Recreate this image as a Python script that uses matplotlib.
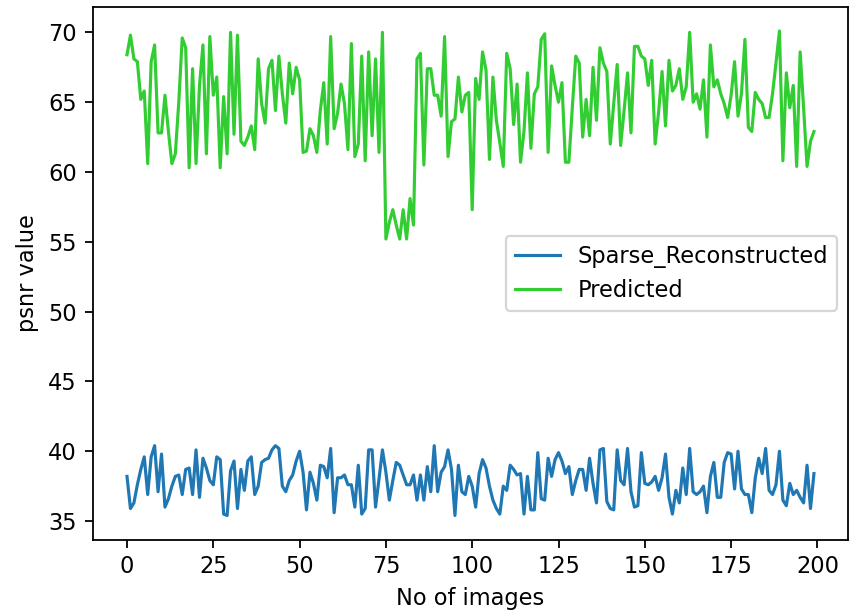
import numpy as np
import matplotlib
matplotlib.use("Agg")
import matplotlib.pyplot as plt

# psnr per image
sparse_reconstructed = [
    38.2, 35.9, 36.3, 37.6, 38.7, 39.6, 36.9, 39.6, 40.4, 37.1,
    39.8, 36.0, 36.6, 37.5, 38.2, 38.3, 36.9, 38.7, 38.8, 36.9,
    40.1, 36.7, 39.5, 38.8, 37.9, 37.6, 39.6, 39.4, 35.5, 35.4,
    38.6, 39.3, 35.9, 38.7, 37.2, 39.3, 39.6, 36.9, 37.5, 39.2,
    39.4, 39.5, 40.1, 40.4, 40.2, 37.5, 37.1, 37.9, 38.3, 39.3,
    40.0, 38.5, 35.8, 38.5, 37.7, 36.5, 39.0, 38.9, 38.1, 40.2,
    35.6, 38.1, 38.1, 38.3, 37.6, 37.6, 36.0, 39.0, 35.5, 35.9,
    40.1, 40.1, 36.0, 38.0, 40.1, 38.5, 36.5, 37.9, 39.2, 39.0,
    38.3, 37.6, 37.6, 38.3, 36.5, 38.3, 36.5, 38.9, 37.1, 40.4,
    37.1, 38.5, 38.9, 40.1, 38.7, 35.4, 39.0, 37.1, 36.9, 38.2,
    37.5, 36.0, 38.4, 39.4, 38.8, 37.5, 36.5, 35.9, 35.5, 37.5,
    37.2, 39.0, 38.7, 38.3, 38.4, 35.5, 38.2, 35.8, 35.8, 39.9,
    36.6, 36.5, 39.5, 38.2, 39.4, 39.9, 39.3, 38.4, 38.9, 36.9,
    37.9, 38.7, 38.7, 37.2, 39.5, 37.7, 36.3, 40.1, 40.2, 36.4,
    35.9, 35.8, 40.1, 37.9, 37.6, 40.2, 37.1, 36.0, 36.1, 39.9,
    37.7, 37.6, 37.8, 38.2, 37.2, 38.1, 39.8, 36.7, 35.5, 37.2,
    36.3, 38.8, 36.9, 40.2, 37.1, 36.9, 37.1, 37.5, 35.6, 38.2,
    39.2, 36.7, 36.7, 39.2, 39.9, 39.8, 37.3, 40.0, 37.3, 36.9,
    36.9, 35.6, 38.1, 39.5, 38.4, 40.2, 37.2, 36.9, 37.6, 40.0,
    36.5, 36.1, 37.7, 36.9, 37.2, 36.7, 36.3, 39.0, 35.9, 38.4,
]

predicted = [
    68.4, 69.8, 68.1, 67.9, 65.2, 65.8, 60.6, 67.9, 69.1, 62.8,
    62.8, 65.5, 62.9, 60.6, 61.3, 65.0, 69.6, 68.9, 60.3, 67.4,
    60.6, 66.2, 69.1, 61.3, 69.7, 65.5, 66.8, 60.3, 65.4, 61.3,
    70.0, 62.7, 69.8, 62.2, 61.9, 62.5, 63.3, 61.6, 68.1, 64.9,
    63.5, 67.4, 68.0, 64.4, 68.3, 65.6, 63.5, 67.8, 65.6, 67.5,
    66.6, 61.4, 61.5, 63.1, 62.6, 61.4, 64.4, 66.4, 62.0, 69.7,
    63.1, 64.2, 66.3, 64.9, 61.6, 69.2, 61.1, 62.0, 68.3, 60.8,
    68.6, 62.6, 68.1, 61.4, 70.0, 55.2, 56.4, 57.3, 56.2, 55.2,
    57.3, 55.2, 58.1, 56.2, 68.1, 68.5, 60.5, 67.4, 67.4, 65.5,
    65.5, 64.0, 69.7, 61.1, 63.6, 63.8, 66.8, 64.3, 65.5, 65.7,
    57.3, 66.7, 65.2, 68.6, 67.3, 60.9, 66.8, 63.7, 62.1, 60.4,
    68.5, 67.4, 63.4, 66.3, 60.7, 62.9, 67.1, 61.7, 65.6, 66.1,
    69.5, 69.9, 61.4, 67.6, 66.2, 65.0, 66.4, 60.7, 60.7, 64.6,
    68.3, 67.8, 62.5, 65.2, 62.6, 67.5, 63.7, 68.9, 67.8, 67.2,
    62.0, 64.9, 67.7, 61.9, 64.4, 67.1, 62.8, 69.0, 69.0, 68.3,
    68.1, 66.2, 68.0, 62.0, 64.3, 67.2, 63.3, 68.0, 65.8, 66.2,
    67.4, 65.2, 66.1, 70.0, 65.0, 65.6, 64.5, 66.6, 62.5, 69.1,
    66.1, 66.6, 65.6, 64.9, 63.9, 65.5, 67.9, 64.0, 65.6, 69.5,
    63.2, 62.9, 65.7, 65.2, 64.9, 63.9, 63.9, 65.6, 67.8, 70.1,
    60.8, 67.1, 64.6, 66.2, 60.4, 68.6, 64.6, 60.4, 62.2, 62.9,
]

images = np.arange(len(predicted))

# render at a high dpi so default sizes scale like the reference screenshot
dpi = 162
fig = plt.figure(figsize=(850 / dpi, 614 / dpi), dpi=dpi)
ax = fig.add_axes([0.109, 0.121, 0.889, 0.868])

ax.plot(images, sparse_reconstructed, color='#1f77b4', linewidth=1.4, label='Sparse_Reconstructed')
ax.plot(images, predicted, color='limegreen', linewidth=1.4, label='Predicted')

ax.set_xlabel('No of images')
ax.set_ylabel('psnr value')
ax.legend(loc='center right')

plt.savefig('out.png', dpi=dpi)
